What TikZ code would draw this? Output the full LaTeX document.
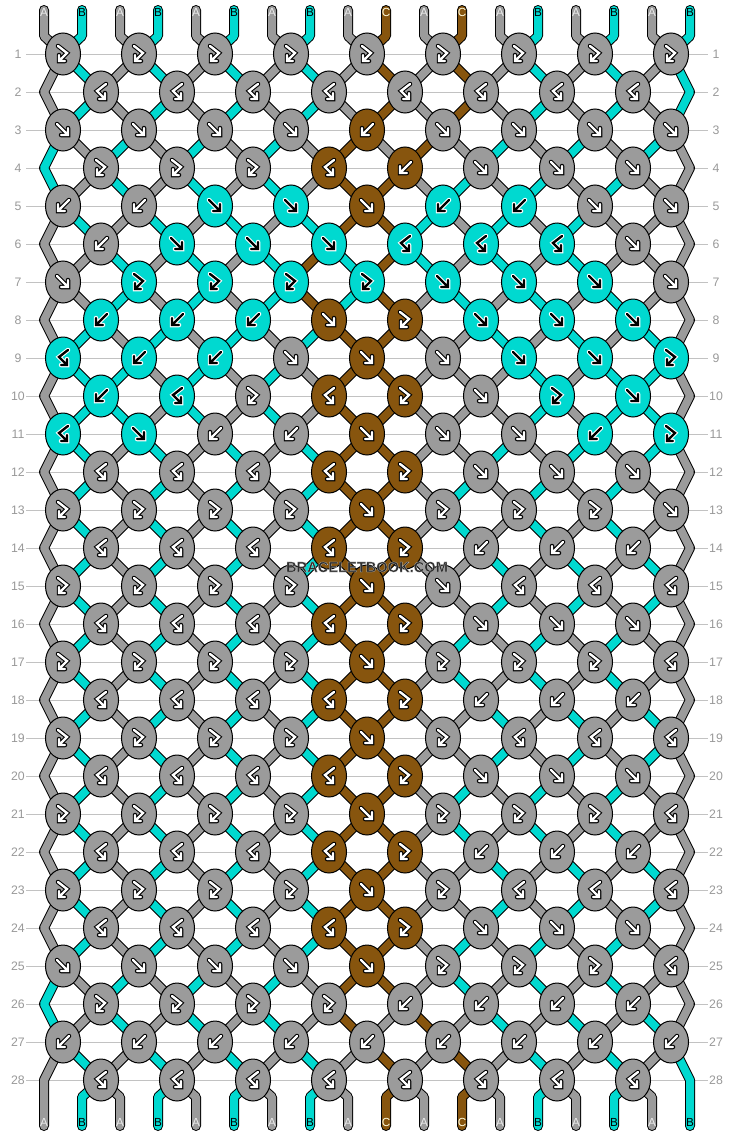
\documentclass[tikz,border=0pt]{standalone}
\usepackage{fontspec}
\setmainfont{Liberation Sans}
\usetikzlibrary{shapes.geometric}

\definecolor{colA}{HTML}{9B9B9B}
\definecolor{colB}{HTML}{00D9D0}
\definecolor{colC}{HTML}{87550E}
\colorlet{inkA}{white}\colorlet{rimA}{black}
\colorlet{inkB}{black}\colorlet{rimB}{white}
\colorlet{inkC}{white}\colorlet{rimC}{black}
\colorlet{txtA}{white!92!black}
\colorlet{txtB}{black}
\colorlet{txtC}{white!88!yellow}
\definecolor{rulegray}{HTML}{C2C2C2}
\definecolor{numgray}{HTML}{999999}
\definecolor{markgray}{HTML}{2E2E2E}

\pgfdeclarelayer{rules}
\pgfdeclarelayer{threads}
\pgfsetlayers{rules,threads,main}

% icon paths, px, y pointing down
\def\ipathf{(-6,-6) -- (4,4) (5,-2) -- (5,5) -- (-2,5)}
\def\ipathb{(6,-6) -- (-4,4) (-5,-2) -- (-5,5) -- (2,5)}
\def\ipathF{(-5,-8) -- (4,-1) -- (-3,6) (-4,1) -- (-4,7) -- (2,7)}
\def\ipathB{(5,-8) -- (-4,-1) -- (3,6) (4,1) -- (4,7) -- (-2,7)}

\newcommand\knoticon[3]{%
  \begin{scope}[shift={(#1.center)}]
    \expandafter\let\expandafter\ipath\csname ipath#2\endcsname
    \draw[rimline=#3] \ipath;
    \draw[inkline=#3] \ipath;
  \end{scope}}
\newcommand\swapthreads{%
  \expandafter\xdef\csname s\lft\endcsname{\colR}%
  \expandafter\xdef\csname s\rgt\endcsname{\colL}}
\newcommand\addthread[2]{% colour, path
  \xdef\threadcmds{\unexpanded\expandafter{\threadcmds}\noexpand\draw[thread=#1] #2;}}

\tikzset{
  knot/.style={ellipse, draw=black, line width=0.3mm, fill=col#1,
    minimum width=10.5mm, minimum height=12.6mm, inner sep=0pt},
  thread/.style={draw=black, line width=0.3mm, double=col#1,
    double distance=2.4mm, line cap=round, line join=round},
  rimline/.style={draw=rim#1, line width=1.35mm, line cap=round, line join=miter},
  inkline/.style={draw=ink#1, line width=0.72mm, line cap=round, line join=miter},
  rowline/.style={draw=rulegray, line width=0.3mm},
  rownr/.style={text=numgray, font=\fontsize{10.5}{12}\selectfont},
  endlabel/.style={text=txt#1, font=\fontsize{10}{11}\selectfont, inner sep=0pt},
  watermark/.style={font=\bfseries\fontsize{12.5}{14}\selectfont, inner sep=0pt}
}

\begin{document}
\begin{tikzpicture}[x=0.3mm, y=-0.3mm]
\useasboundingbox (0,0) rectangle (734,1136);
\begin{pgfonlayer}{rules}
  \fill[white] (0,0) rectangle (734,1136);
  \foreach \r in {1,...,28}
    \draw[rowline] (26,54+38*\r-38) -- (708,54+38*\r-38);
\end{pgfonlayer}
\gdef\threadcmds{}

% threads at the top
\foreach \cc [count=\i from 0] in {A,B,A,B,A,B,A,B,A,C,A,C,A,B,A,B,A,B} {
  \expandafter\xdef\csname s\i\endcsname{\cc}
  \coordinate (t-\i) at (44+38*\i,10);
  \coordinate (b-\i) at (44+38*\i,1126);
  \node[endlabel=\cc] (lt-\i) at (44+38*\i,12) {\cc};
}

% f forward, b backward, F forward-backward, B backward-forward
\foreach \types [count=\r] in {
  {F,F,F,F,F,F,F,F,F},
  {B,B,B,B,B,B,B,B},
  {f,f,f,f,b,f,f,f,f},
  {F,F,F,B,b,f,f,f},
  {b,b,f,f,f,b,b,f,f},
  {b,f,f,f,B,B,B,f},
  {f,F,F,F,F,f,f,f,f},
  {b,b,b,f,F,f,f,f},
  {B,b,b,f,f,f,f,f,F},
  {b,B,F,B,F,f,F,f},
  {B,f,b,b,f,f,f,b,F},
  {B,B,B,B,F,f,f,f},
  {F,F,F,F,f,F,F,F,f},
  {B,B,B,B,F,b,b,b},
  {F,F,F,F,f,f,B,B,B},
  {B,B,B,B,F,f,f,f},
  {F,F,F,F,f,F,F,F,B},
  {B,B,B,B,F,b,b,b},
  {F,F,F,F,f,F,B,B,B},
  {B,B,B,B,F,f,f,f},
  {F,F,F,F,f,F,F,F,B},
  {B,B,B,B,F,b,b,b},
  {F,F,F,F,f,F,B,B,B},
  {B,B,B,B,F,f,f,f},
  {f,f,f,f,f,F,F,F,B},
  {F,F,F,F,b,b,b,b},
  {b,b,b,b,b,b,b,b,b},
  {B,B,B,B,B,B,B,B}} {
  \pgfmathtruncatemacro\odd{mod(\r,2)}
  \pgfmathsetmacro\y{54+38*(\r-1)}
  \pgfmathtruncatemacro\rp{\r-1}
  \pgfmathtruncatemacro\rpp{\r-2}
  \node[rownr] (nl-\r) at (18,\y) {\r};
  \node[rownr] (nr-\r) at (716,\y) {\r};
  \ifnum\odd=0\relax
    \coordinate (el-\r) at (44,\y);
    \coordinate (er-\r) at (690,\y);
  \fi
  \foreach \kt [count=\kk from 0] in \types {
    \pgfmathtruncatemacro\lft{2*\kk+1-\odd}
    \pgfmathtruncatemacro\rgt{\lft+1}
    \pgfmathsetmacro\x{63+76*\kk+38*(1-\odd)}
    \edef\colL{\csname s\lft\endcsname}
    \edef\colR{\csname s\rgt\endcsname}
    \ifnum\r=1\relax
      \edef\srcL{(t-\lft) -- ++(0,26)}
      \edef\srcR{(t-\rgt) -- ++(0,26)}
    \else\ifnum\odd=1\relax
      \ifnum\kk=0\relax \edef\srcL{(k-\rpp-0.center) -- (el-\rp)}
      \else \pgfmathtruncatemacro\km{\kk-1}\edef\srcL{(k-\rp-\km.center)}\fi
      \ifnum\kk=8\relax \edef\srcR{(k-\rpp-8.center) -- (er-\rp)}
      \else \edef\srcR{(k-\rp-\kk.center)}\fi
    \else
      \pgfmathtruncatemacro\kq{\kk+1}
      \edef\srcL{(k-\rp-\kk.center)}
      \edef\srcR{(k-\rp-\kq.center)}
    \fi\fi
    \edef\ck{\colR}
    \if\kt f\edef\ck{\colL}\fi
    \if\kt F\edef\ck{\colL}\fi
    \node[knot=\ck] (k-\r-\kk) at (\x,\y) {};
    \knoticon{k-\r-\kk}{\kt}{\ck}
    \addthread{\colL}{\srcL -- (k-\r-\kk.center)}
    \addthread{\colR}{\srcR -- (k-\r-\kk.center)}
    \if\kt f\swapthreads\fi
    \if\kt b\swapthreads\fi
  }
}

% threads at the bottom
\foreach \i in {0,...,17} {
  \edef\cc{\csname s\i\endcsname}
  \ifnum\i=0\relax \edef\src{(k-27-0.center) -- (el-28)}
  \else\ifnum\i=17\relax \edef\src{(k-27-8.center) -- (er-28)}
  \else
    \pgfmathtruncatemacro\kk{(\i-1)/2}
    \edef\src{(k-28-\kk.center) -- (44+38*\i,1097)}
  \fi\fi
  \addthread{\cc}{\src -- (b-\i)}
  \node[endlabel=\cc] (lb-\i) at (44+38*\i,1122) {\cc};
}

\begin{pgfonlayer}{threads}
  \threadcmds
\end{pgfonlayer}

% light rim round the letters (stroke render mode)
\node[watermark, text=markgray] (wmark) at (367,567)
  {\special{pdf:literal direct 2 Tr 0.15 w 0.85 0.85 0.85 RG}BRACELETBOOK.COM};
\end{tikzpicture}
\end{document}
